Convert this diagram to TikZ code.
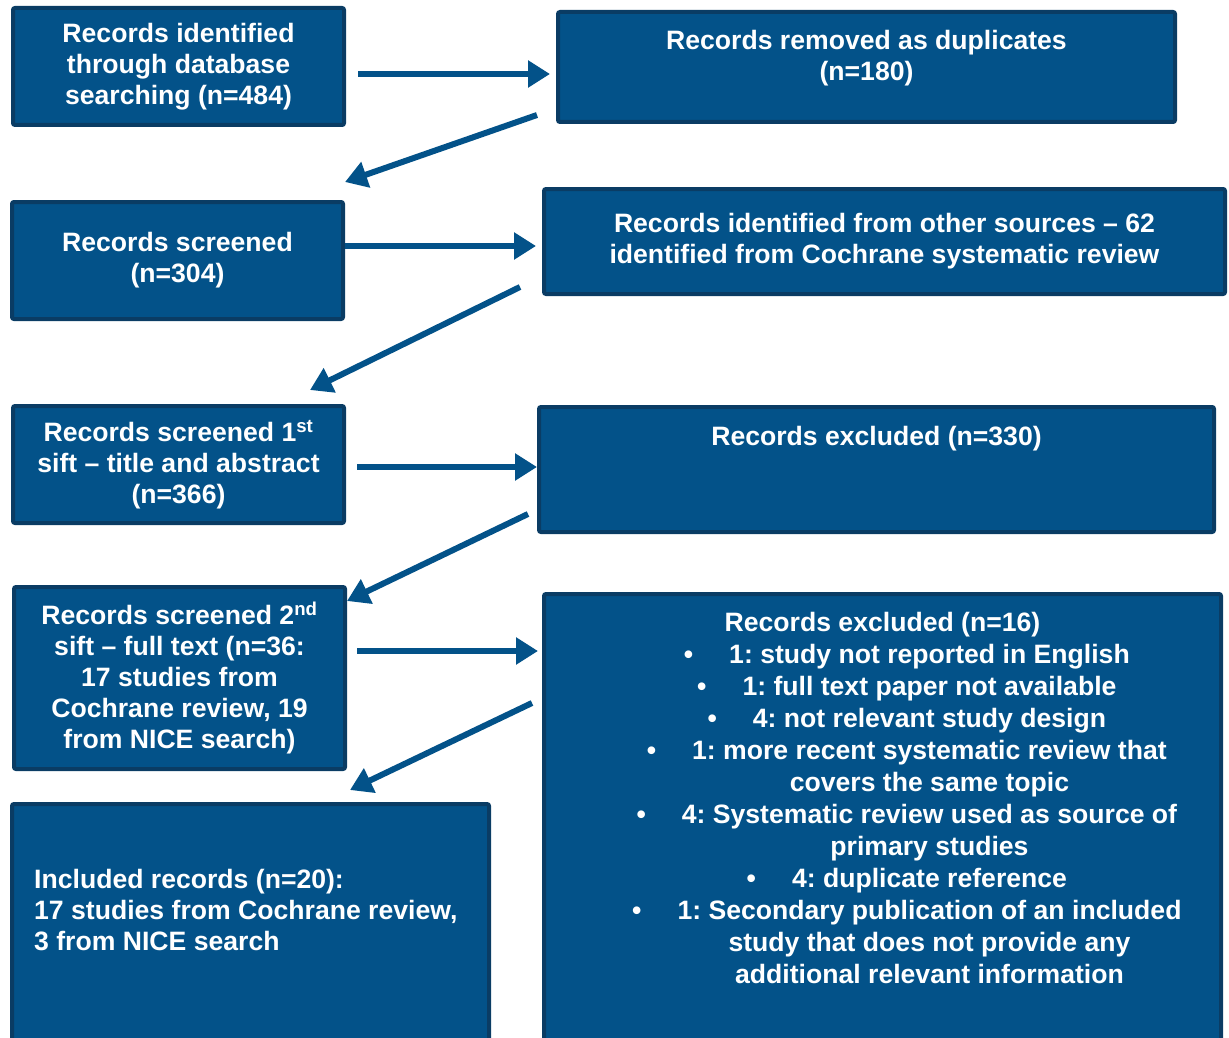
\documentclass[tikz,border=0pt]{standalone}
\usepackage{fontspec}
\setmainfont{Liberation Sans}
\usetikzlibrary{arrows.meta,calc,positioning}
\definecolor{boxfill}{RGB}{3,82,137}
\definecolor{boxline}{RGB}{10,60,100}
\newcommand{\boxfont}{\bfseries\fontsize{26.6}{31}\selectfont\frenchspacing}
\newcommand{\listfont}{\bfseries\fontsize{26.6}{32}\selectfont\frenchspacing}
% bullet item, text centred a little right of the box centre
\newcommand{\exitem}[1]{\hspace*{94pt}\llap{\textbullet\hspace{36pt}}#1}
\newcommand{\excont}[1]{\hspace*{94pt}#1}
\tikzset{
	recbox/.style={draw=boxline, fill=boxfill, line width=4pt, rounded corners=2pt,
		outer sep=0pt, inner sep=0pt, anchor=north west, text=white,
		font=\boxfont, align=center},
	rectext/.style={text=white, font=\boxfont, inner sep=0pt, align=center},
	flowarrow/.style={draw=boxfill, line width=6pt,
		-{Triangle[length=22pt,width=26pt]}},
}
\begin{document}
\begin{tikzpicture}[x=1pt,y=-1pt]
	\useasboundingbox (0,0) rectangle (1229,1038);

	\node[recbox, minimum width=331, minimum height=117] (ident) at (13,8)
		{Records identified\\through database\\searching (n=484)};
	\node[recbox, minimum width=617, minimum height=110] (dupl) at (558,12) {};
	\node[rectext, anchor=north] (dupltext) at ([yshift=-18]dupl.north)
		{Records removed as duplicates\\(n=180)};

	\node[recbox, minimum width=331, minimum height=117] (screen) at (12,202)
		{Records screened\\(n=304)};
	\node[recbox, minimum width=681, minimum height=105] (other) at (544,189)
		{Records identified from other sources -- 62\\identified from Cochrane systematic review};

	\node[recbox, minimum width=331, minimum height=117] (siftone) at (13,406)
		{Records screened 1\textsuperscript{st}\\sift -- title and abstract\\(n=366)};
	\node[recbox, minimum width=675, minimum height=125] (exclone) at (539,407) {};
	\node[rectext, anchor=north] (exclonetext) at ([yshift=-19]exclone.north)
		{Records excluded (n=330)};

	\node[recbox, minimum width=331, minimum height=182] (sifttwo) at (14,587)
		{Records screened 2\textsuperscript{nd}\\sift -- full text (n=36:\\17 studies from\\Cochrane review, 19\\from NICE search)};
	\node[recbox, minimum width=677, minimum height=456] (excltwo) at (544,594) {};
	\node[rectext, font=\listfont, anchor=north] (excltwotext) at ([yshift=-18]excltwo.north)
		{Records excluded (n=16)\\
		\exitem{1: study not reported in English}\\
		\exitem{1: full text paper not available}\\
		\exitem{4: not relevant study design}\\
		\exitem{1: more recent systematic review that}\\
		\excont{covers the same topic}\\
		\exitem{4: Systematic review used as source of}\\
		\excont{primary studies}\\
		\exitem{4: duplicate reference}\\
		\exitem{1: Secondary publication of an included}\\
		\excont{study that does not provide any}\\
		\excont{additional relevant information}};

	\node[recbox, minimum width=477, minimum height=246] (incl) at (12,804) {};
	\node[rectext, align=left, anchor=north west] (incltext) at ([xshift=22,yshift=-65]incl.north west)
		{Included records (n=20):\\17 studies from Cochrane review,\\3 from NICE search};

	% arrows
	\draw[flowarrow, shorten >=8pt] ($(ident.east)+(14,7.5)$) coordinate (a1) -- (a1 -| dupl.west);
	\draw[flowarrow] ($(dupl.south west)+(-21,-7)$) -- ($(screen.north east)+(2,-20)$);
	\draw[flowarrow, shorten >=8pt] ($(screen.east)+(2,-14.5)$) coordinate (a2) -- (a2 -| other.west);
	\draw[flowarrow] ($(other.south west)+(-24,-7)$) -- ($(siftone.north east)+(-34,-16)$);
	\draw[flowarrow, shorten >=2pt] ($(siftone.east)+(13,2.5)$) coordinate (a3) -- (a3 -| exclone.west);
	\draw[flowarrow] ($(exclone.south west)+(-11,-18)$) -- ($(sifttwo.north east)+(2,14)$);
	\draw[flowarrow, shorten >=6pt] ($(sifttwo.east)+(12,-27)$) coordinate (a4) -- (a4 -| excltwo.west);
	\draw[flowarrow] ($(excltwo.north west)+(-12,109)$) -- ($(incl.north west)+(338,-14)$);

\end{tikzpicture}
\end{document}
